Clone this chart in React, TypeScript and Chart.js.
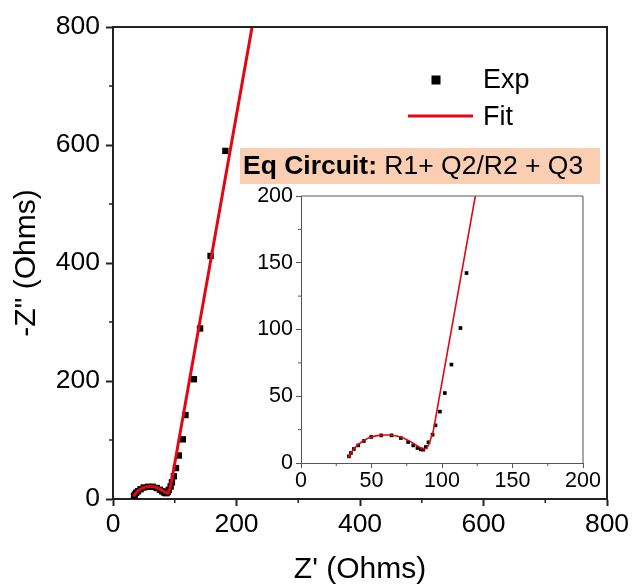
import React, { useEffect, useRef } from 'react';
import { Chart, registerables } from 'chart.js';

Chart.register(...registerables);

const FONT = "'Liberation Sans', Arial, Helvetica, sans-serif";
const RED = '#e30613';

// Measured impedance (Z' real part, -Z" imaginary part), Ohms
const expZre = [34.0, 35.4, 37.5, 40.6, 44.6, 49.8, 56.9, 64.2, 70.8, 76.0, 79.6, 82.6, 85.0, 86.7, 88.5, 90.4, 93.3, 95.4, 98.5, 102.0, 106.7, 113.1, 117.4, 131, 141, 158, 182];
const expZim = [5.0, 7.5, 10.5, 13.2, 16.5, 19.5, 20.7, 20.7, 18.7, 15.7, 13.2, 11.2, 10.2, 10.0, 12.0, 15.5, 21.2, 28.2, 38.5, 52.4, 73.7, 101.1, 142.3, 203, 289, 412, 590];

// Equivalent-circuit fit R1 + Q2/R2 + Q3
const fitZre = [33.5, 35, 37, 40, 44, 48, 53, 58, 63, 68, 73, 78, 82, 85, 87.5, 89, 90.5, 92, 94, 232];
const fitZim = [4, 7, 10, 13.5, 16.5, 18.8, 20.3, 21, 21, 20.2, 18.5, 15.8, 13.2, 11.3, 10.3, 11, 13.5, 18, 25, 840];

// Axis ranges and tick spacing
const mainMax = 800;
const mainStep = 200;
const mainMinor = [100, 300, 500, 700];
const insetMax = 200;
const insetStep = 50;
const insetMinor = [25, 75, 125, 175];

const legendLabels = ['Exp', 'Fit'];
const circuitTitle = 'Eq Circuit:';
const circuitText = ' R1+ Q2/R2 + Q3';

const pairs = (xs: number[], ys: number[]) => xs.map((x, i) => ({ x, y: ys[i] }));

function framePlugin(color: string, width: number, minor: number[], len: number) {
  return {
    id: 'frame',
    afterDraw(chart: any) {
      const { ctx, chartArea: a, scales } = chart;
      ctx.save();
      ctx.strokeStyle = color;
      ctx.lineWidth = width;
      ctx.beginPath();
      ctx.moveTo(a.left, a.top);
      ctx.lineTo(a.right, a.top);
      ctx.lineTo(a.right, a.bottom);
      ctx.stroke();
      ctx.lineWidth = Math.max(1, width - 0.5);
      ctx.beginPath();
      for (const v of minor) {
        const px = scales.x.getPixelForValue(v);
        ctx.moveTo(px, a.bottom);
        ctx.lineTo(px, a.bottom + len);
        const py = scales.y.getPixelForValue(v);
        ctx.moveTo(a.left, py);
        ctx.lineTo(a.left - len, py);
      }
      ctx.stroke();
      ctx.restore();
    },
  };
}

const annotationPlugin = {
  id: 'annotations',
  afterDraw(chart: any) {
    const { ctx } = chart;
    ctx.save();
    // legend
    ctx.fillStyle = '#000';
    ctx.fillRect(431.5, 75.5, 9, 9);
    ctx.strokeStyle = RED;
    ctx.lineWidth = 3;
    ctx.beginPath();
    ctx.moveTo(408, 116);
    ctx.lineTo(473, 116);
    ctx.stroke();
    ctx.font = `27px ${FONT}`;
    ctx.textBaseline = 'middle';
    ctx.textAlign = 'left';
    ctx.fillText(legendLabels[0], 483, 81);
    ctx.fillText(legendLabels[1], 483, 118);
    // circuit label
    ctx.fillStyle = 'rgb(250, 206, 178)';
    ctx.fillRect(240, 148, 360, 36);
    ctx.fillStyle = '#000';
    ctx.font = `bold 26.5px ${FONT}`;
    ctx.fillText(circuitTitle, 243, 167);
    const w = ctx.measureText(circuitTitle).width;
    ctx.font = `26.5px ${FONT}`;
    ctx.fillText(circuitText, 243 + w, 167);
    ctx.restore();
  },
};

function datasets(lineWidth: number, pointRadius: number) {
  return [
    {
      label: legendLabels[1],
      data: pairs(fitZre, fitZim),
      showLine: true,
      borderColor: RED,
      borderWidth: lineWidth,
      pointRadius: 0,
      tension: 0,
      order: 0,
      clip: 0,
    },
    {
      label: legendLabels[0],
      data: pairs(expZre, expZim),
      pointStyle: 'rect',
      pointRadius,
      pointBackgroundColor: '#000',
      pointBorderWidth: 0,
      showLine: false,
      order: 1,
      clip: 0,
    },
  ];
}

function axis(opts: any) {
  const { max, step, size, tickLen, color, borderWidth, padding, title, titlePad, fit } = opts;
  return {
    type: 'linear',
    min: 0,
    max,
    ticks: { stepSize: step, font: { family: FONT, size }, color: '#000', padding, maxRotation: 0, autoSkip: false },
    grid: { drawOnChartArea: false, drawTicks: true, tickLength: tickLen, tickColor: color, tickWidth: borderWidth },
    border: { display: true, color, width: borderWidth },
    title: title
      ? { display: true, text: title, font: { family: FONT, size: 30 }, color: '#000', padding: titlePad }
      : { display: false },
    afterFit: fit,
  };
}

export default function App() {
  const mainRef = useRef<HTMLCanvasElement>(null);
  const insetRef = useRef<HTMLCanvasElement>(null);

  useEffect(() => {
    const main = new Chart(mainRef.current as HTMLCanvasElement, {
      type: 'scatter',
      data: { datasets: datasets(3, 4.5) as any },
      options: {
        responsive: false,
        animation: false,
        devicePixelRatio: 1,
        layout: { padding: { top: 27, right: 26, left: 0, bottom: 0 } },
        plugins: { legend: { display: false }, tooltip: { enabled: false } },
        scales: {
          x: axis({ max: mainMax, step: mainStep, size: 26.5, tickLen: 7, color: '#222', borderWidth: 2, padding: 3, title: "Z' (Ohms)", titlePad: { top: 0, bottom: -1 }, fit: (s: any) => { s.height = 88; } }),
          y: axis({ max: mainMax, step: mainStep, size: 26.5, tickLen: 7, color: '#222', borderWidth: 2, padding: 6, title: '-Z" (Ohms)', titlePad: { top: 9, bottom: 0 }, fit: (s: any) => { s.width = 113; } }),
        } as any,
      },
      plugins: [framePlugin('#222', 2, mainMinor, 4), annotationPlugin],
    });

    const inset = new Chart(insetRef.current as HTMLCanvasElement, {
      type: 'scatter',
      data: { datasets: datasets(1.6, 2.6) as any },
      options: {
        responsive: false,
        animation: false,
        devicePixelRatio: 1,
        layout: { padding: { top: 196, right: 50, left: 240, bottom: 94 } },
        plugins: { legend: { display: false }, tooltip: { enabled: false } },
        scales: {
          x: axis({ max: insetMax, step: insetStep, size: 21.5, tickLen: 5, color: '#555', borderWidth: 1, padding: 0, fit: (s: any) => { s.height = 30; } }),
          y: axis({ max: insetMax, step: insetStep, size: 21.5, tickLen: 5, color: '#555', borderWidth: 1, padding: 3, fit: (s: any) => { s.width = 61; } }),
        } as any,
      },
      plugins: [framePlugin('#555', 1, insetMinor, 3)],
    });

    return () => {
      main.destroy();
      inset.destroy();
    };
  }, []);

  const layer: React.CSSProperties = { position: 'absolute', left: 0, top: 0 };
  return (
    <div style={{ position: 'absolute', left: 0, top: 0, width: 633, height: 587, background: '#fff' }}>
      <canvas ref={mainRef} width={633} height={587} style={layer} />
      <canvas ref={insetRef} width={633} height={587} style={layer} />
    </div>
  );
}
